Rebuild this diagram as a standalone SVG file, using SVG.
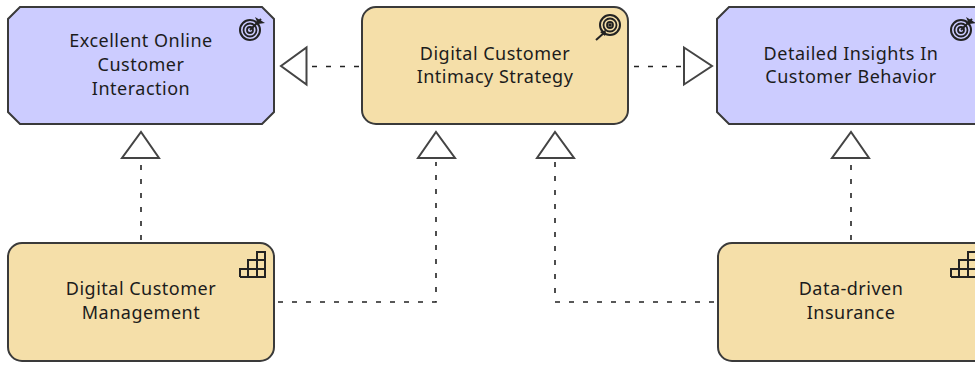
<svg xmlns="http://www.w3.org/2000/svg" width="975" height="365" viewBox="0 0 975 365">
<style>
text{font-family:"Noto Sans","Liberation Sans",Arial,sans-serif;font-size:18px;letter-spacing:.5px;fill:#1c1c1c;text-anchor:middle}
.goal{fill:#ccccff;stroke:#3a3a3a;stroke-width:2}
.biz{fill:#f5dfa9;stroke:#3a3a3a;stroke-width:2}
.c{fill:none;stroke:#222;stroke-width:1.6;stroke-dasharray:5 9}
.h{fill:#fff;stroke:#444;stroke-width:2}
.i{fill:none;stroke:#222;stroke-width:2}
</style>
<defs>
<g id="target"><circle r="10" fill="none" stroke="#222" stroke-width="2"/><circle r="6.500" fill="none" stroke="#222" stroke-width="1.800"/><circle r="3" fill="none" stroke="#222" stroke-width="1.800"/></g>
<g id="steps" class="i"><path d="M0 25H25V0H17V25M8 25V8H25M0 25V17H25"/></g>
</defs>
<rect width="975" height="365" fill="#fff"/>
<g id="connectors">
<path class="c" d="M359 66.500H310"/><path class="h" d="M306.500 47.500V84.500L281 66Z"/>
<path class="c" d="M634 66.500H683"/><path class="h" d="M684 47.500V84.500L712 66Z"/>
<path class="c" d="M141 240V162"/><path class="h" d="M122 158H159L141 132Z"/>
<path class="c" d="M278 302H436V162"/><path class="h" d="M418 158H455L436 132Z"/>
<path class="c" d="M714 302H555V162"/><path class="h" d="M537 158H574L555 132Z"/>
<path class="c" d="M851 240V162"/><path class="h" d="M832 158H869L851 132Z"/>
</g>
<g id="n1"><path class="goal" d="M20 7H262L274 19V112L262 124H20L8 112V19Z"/>
<g transform="translate(250 30)"><use href="#target"/><path d="M0 0L11 -11" stroke="#222" stroke-width="2"/><path d="M5 -13L15 -7L8 -6Z" fill="#222"/></g>
<text x="141" y="47">Excellent Online</text><text x="141" y="71">Customer</text><text x="141" y="95">Interaction</text></g>
<g id="n2"><rect class="biz" x="362" y="7" width="266" height="117" rx="14"/>
<g transform="translate(610 25)"><use href="#target"/><circle r="1.800" fill="#222"/><path d="M-5 7L-14 15" stroke="#222" stroke-width="2"/><path d="M-4 5L-5 11L-10 7Z" fill="#222"/></g>
<text x="495" y="60">Digital Customer</text><text x="495" y="83">Intimacy Strategy</text></g>
<g id="n3"><path class="goal" d="M729 7H976V124H729L717 112V19Z"/>
<g transform="translate(961 30)"><use href="#target"/><path d="M0 0L11 -11" stroke="#222" stroke-width="2"/><path d="M5 -13L15 -7L8 -6Z" fill="#222"/></g>
<text x="851" y="60">Detailed Insights In</text><text x="851" y="83">Customer Behavior</text></g>
<g id="n4"><rect class="biz" x="8" y="243" width="266" height="118" rx="14"/>
<use href="#steps" transform="translate(240 252)"/>
<text x="141" y="295">Digital Customer</text><text x="141" y="319">Management</text></g>
<g id="n5"><rect class="biz" x="718" y="243" width="280" height="118" rx="14"/>
<use href="#steps" transform="translate(951 252)"/>
<text x="851" y="295">Data-driven</text><text x="851" y="319">Insurance</text></g>
</svg>
